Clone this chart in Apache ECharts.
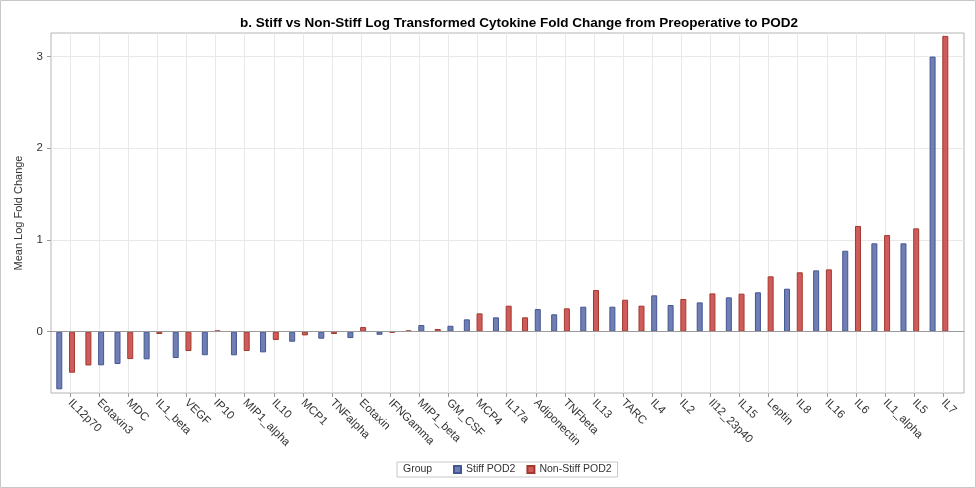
<!DOCTYPE html>
<html>
<head>
<meta charset="utf-8">
<script src="https://cdn.jsdelivr.net/npm/echarts@6/dist/echarts.min.js"></script>
<style>
html,body{margin:0;padding:0;background:#fff;}
#chart{width:976px;height:488px;}
</style>
</head>
<body>
<div id="chart"></div>
<script>
// ---- data ----
const categories = ['IL12p70','Eotaxin3','MDC','IL1_beta','VEGF','IP10','MIP1_alpha','IL10','MCP1','TNFalpha',
  'Eotaxin','IFNGamma','MIP1_beta','GM_CSF','MCP4','IL17a','Adiponectin','TNFbeta','IL13','TARC',
  'IL4','IL2','Il12_23p40','IL15','Leptin','IL8','IL16','IL6','IL1_alpha','IL5','IL7'];
const stiffPOD2 = [-0.628,-0.366,-0.352,-0.301,-0.287,-0.256,-0.257,-0.225,-0.109,-0.076,
  -0.069,-0.033,0.073,0.065,0.135,0.157,0.247,0.190,0.273,0.273,
  0.397,0.291,0.320,0.375,0.430,0.469,0.669,0.883,0.964,0.964,3.000];
const nonStiffPOD2 = [-0.447,-0.368,-0.298,-0.025,-0.210,0.015,-0.210,-0.090,-0.040,-0.025,
  0.051,-0.011,0.015,0.030,0.200,0.284,0.157,0.255,0.455,0.349,
  0.284,0.357,0.418,0.415,0.604,0.648,0.680,1.153,1.054,1.127,3.225];
const yTickValues = [0, 1, 2, 3];
const seriesNames = ['Stiff POD2', 'Non-Stiff POD2'];

// ---- layout constants ----
const Y_MIN = -0.668, Y_MAX = 3.257;
const FONT = "'Liberation Sans', Arial, sans-serif";
const PLOT_TOP = 33, PLOT_H = 360;
const FRAME_LEFT = 51, FRAME_W = 913;
const AXIS_LEFT = 55.45, AXIS_W = 902.4;
const BAR_SHIFT = -4.35;

// smaller value of each pair is drawn in the first slot
const firstStiff = stiffPOD2.map((v, i) => v <= nonStiffPOD2[i] ? v : null);
const firstNon = nonStiffPOD2.map((v, i) => v < stiffPOD2[i] ? v : null);
const secondStiff = stiffPOD2.map((v, i) => v > nonStiffPOD2[i] ? v : null);
const secondNon = nonStiffPOD2.map((v, i) => v >= stiffPOD2[i] ? v : null);

const blueStyle = { color: '#6F7EB3', borderColor: '#445694', borderWidth: 1 };
const redStyle = { color: '#D05B5B', borderColor: '#A23A2E', borderWidth: 1 };

function barSeries(name, stack, data, style) {
  return {
    name: name, type: 'bar', stack: stack, data: data,
    xAxisIndex: 2, yAxisIndex: 2,
    barWidth: 6, barGap: '112%',
    itemStyle: style, emphasis: { disabled: true },
    animation: false
  };
}

const chart = echarts.init(document.getElementById('chart'), null, { renderer: 'canvas' });
chart.setOption({
  animation: false,
  textStyle: { fontFamily: FONT },
  title: {
    text: 'b. Stiff vs Non-Stiff Log Transformed Cytokine Fold Change from Preoperative to POD2',
    left: 514, top: 11, textAlign: 'center',
    textStyle: { fontFamily: FONT, fontSize: 13.5, fontWeight: 'bold', color: '#000' }
  },
  grid: [
    { left: FRAME_LEFT, top: PLOT_TOP, width: FRAME_W, height: PLOT_H, show: true, borderColor: '#b4b4b4', borderWidth: 1, backgroundColor: 'transparent' },
    { left: AXIS_LEFT, top: PLOT_TOP, width: AXIS_W, height: PLOT_H },
    { left: AXIS_LEFT + BAR_SHIFT, top: PLOT_TOP, width: AXIS_W, height: PLOT_H }
  ],
  xAxis: [
    { gridIndex: 0, type: 'value', min: 0, max: 1, show: false },
    {
      gridIndex: 1, type: 'category', data: categories, boundaryGap: true,
      axisLine: { show: false, onZero: false },
      axisTick: { show: true, alignWithLabel: true, interval: 0, length: 4, lineStyle: { color: '#9a9a9a' } },
      axisLabel: { interval: 0, rotate: -45, margin: 8, fontSize: 11.5, color: '#333', fontFamily: FONT },
      splitLine: { show: true, interval: 0, alignWithLabel: true, lineStyle: { color: '#e8e8e8', width: 1 } }
    },
    { gridIndex: 2, type: 'category', data: categories, show: false }
  ],
  yAxis: [
    {
      gridIndex: 0, type: 'value', min: Y_MIN, max: Y_MAX,
      axisLine: { show: false },
      axisTick: { show: true, customValues: yTickValues, length: 4, lineStyle: { color: '#9a9a9a' } },
      axisLabel: { customValues: yTickValues, margin: 8, fontSize: 11.5, color: '#333', fontFamily: FONT },
      splitLine: { show: true, lineStyle: { color: '#e8e8e8', width: 1 } },
      name: 'Mean Log Fold Change', nameLocation: 'middle', nameGap: 27, nameRotate: 90,
      nameTextStyle: { fontSize: 11, color: '#333', fontFamily: FONT }
    },
    { gridIndex: 1, type: 'value', min: Y_MIN, max: Y_MAX, show: false },
    { gridIndex: 2, type: 'value', min: Y_MIN, max: Y_MAX, show: false }
  ],
  legend: {
    left: 397, top: 462,
    data: seriesNames,
    icon: 'rect', itemWidth: 7, itemHeight: 7, itemGap: 11,
    borderColor: '#c8c8c8', borderWidth: 1, borderRadius: 0,
    padding: [2, 6, 2, 56],
    textStyle: { fontSize: 10.5, color: '#333', fontFamily: FONT },
    selectedMode: false
  },
  graphic: [
    { type: 'rect', shape: { x: 0.5, y: 0.5, width: 975, height: 487 }, style: { fill: 'none', stroke: '#c8c8c8', lineWidth: 1 }, silent: true },
    { type: 'text', left: 403, top: 463.5, style: { text: 'Group', font: "10.5px 'Liberation Sans', Arial, sans-serif", fill: '#333' }, silent: true }
  ],
  series: [
    {
      type: 'line', xAxisIndex: 0, yAxisIndex: 0, data: [], silent: true,
      markLine: { silent: true, symbol: 'none', label: { show: false }, animation: false,
        lineStyle: { color: '#9a9a9a', type: 'solid', width: 1 }, data: [{ yAxis: 0 }] }
    },
    barSeries(seriesNames[0], 'first', firstStiff, blueStyle),
    barSeries(seriesNames[1], 'first', firstNon, redStyle),
    barSeries(seriesNames[0], 'second', secondStiff, blueStyle),
    barSeries(seriesNames[1], 'second', secondNon, redStyle)
  ]
});
</script>
</body>
</html>
